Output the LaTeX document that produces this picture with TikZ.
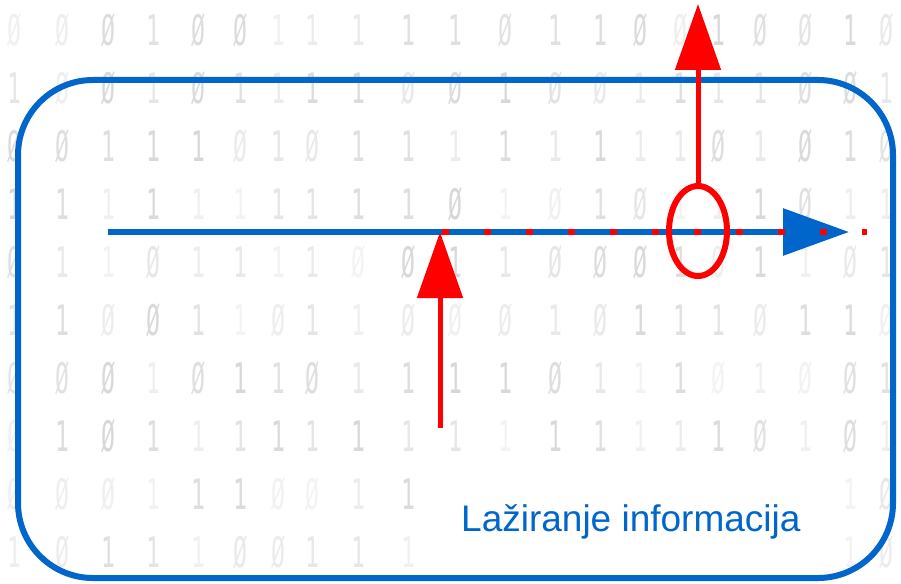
\documentclass[tikz,border=0pt]{standalone}
\usepackage{fontspec}
\usetikzlibrary{arrows.meta,shapes.geometric}
\newfontfamily\labelfont{Liberation Sans}
\newfontfamily\digitfont{DejaVu Sans Mono}
\definecolor{frameblue}{RGB}{0,102,204}
\definecolor{alertred}{RGB}{255,0,0}
\begin{document}
\begin{tikzpicture}[x=1pt,y=-1pt,
  digit/.style={font=\digitfont\fontsize{42}{42}\selectfont, text=black!70, xscale=0.55, inner sep=0},
  frame/.style={draw=frameblue, line width=6pt, rounded corners=75pt},
  flow/.style={draw=frameblue, line width=6pt, -{Triangle[length=66pt,width=46pt]}},
  dotline/.style={draw=alertred, line width=6pt, dash pattern=on 7pt off 35pt},
  redarrow/.style={draw=alertred, line width=5pt, -{Triangle[length=66pt,width=45pt]}},
  ring/.style={ellipse, draw=alertred, line width=6pt, minimum width=58pt, minimum height=90pt, inner sep=0},
  caption/.style={font=\labelfont\fontsize{37}{44}\selectfont, text=frameblue, inner sep=0}]
\useasboundingbox (0,0) rectangle (901,583);
\fill[white] (0,0) rectangle (901,583);
% background of blurred binary digits
\pgfmathsetseed{7}
\foreach \cx [count=\ci] in {14,62,108,153,198,240,278,312,358,408,455,505,555,600,640,680,718,760,805,850,886} {
  \foreach \ry in {0,...,9} {
    \pgfmathrandominteger{\d}{0}{2}
    \pgfmathsetmacro{\op}{0.06+0.16*rnd}
    \pgfmathsetmacro{\yy}{30+\ry*58}
    \pgfmathtruncatemacro{\skip}{(\cx>430)&&(\cx<830)&&(\yy>480)&&(\yy<560)}
    \ifnum\skip=0
      \node[digit, opacity=\op] (d\ci-\ry) at (\cx, \yy) {\ifnum\d=0 Ø\else 1\fi};
    \fi
  }
}
% frame
\draw[frame] (18,80) rectangle (893,578);
% coordinates
\coordinate (flowstart) at (108,232);
\coordinate (flowend) at (849,232);
\coordinate (dotstart) at (441.5,232);
\coordinate (dotend) at (867,232);
\coordinate (lowstart) at (440,428);
\coordinate (lowtip) at (440,232);
\coordinate (toptip) at (698,4);
% blue flow arrow
\draw[flow] (flowstart) -- (flowend);
% red dotted tapping line
\draw[dotline] (dotstart) -- (dotend);
% ring
\node[ring] (ring) at (698,231) {};
% red arrows
\draw[redarrow] (lowstart) -- (lowtip);
\draw[redarrow] (ring.north) -- (toptip);
% caption
\node[caption, anchor=base west] (cap) at (461,531) {Lažiranje informacija};
\end{tikzpicture}
\end{document}
